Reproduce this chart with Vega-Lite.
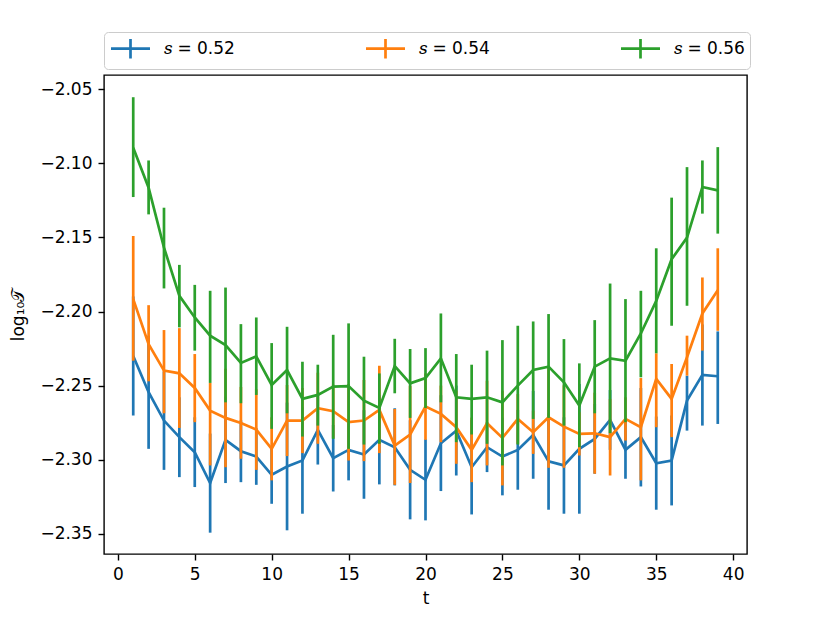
{
  "$schema": "https://vega.github.io/schema/vega-lite/v6.json",
  "width": 643,
  "height": 479,
  "autosize": {"type": "none"},
  "padding": {"left": 104, "top": 75, "right": 83, "bottom": 69},
  "background": "white",
  "config": {
    "font": "DejaVu Sans",
    "view": {"stroke": "black", "strokeWidth": 1.4},
    "axis": {
      "grid": false,
      "domain": false,
      "tickColor": "black",
      "tickWidth": 1.4,
      "tickSize": 6,
      "labelFontSize": 17,
      "labelColor": "black",
      "labelPadding": 6,
      "titleFontSize": 17,
      "titleFontWeight": "normal",
      "titleColor": "black"
    }
  },
  "data": {
    "values": [
      {"t":1,"s":"𝑠 = 0.52","v":-2.2300,"lo":-2.2702,"hi":-2.1898},
      {"t":2,"s":"𝑠 = 0.52","v":-2.2545,"lo":-2.2927,"hi":-2.2163},
      {"t":3,"s":"𝑠 = 0.52","v":-2.2736,"lo":-2.3069,"hi":-2.2404},
      {"t":4,"s":"𝑠 = 0.52","v":-2.2848,"lo":-2.3118,"hi":-2.2579},
      {"t":5,"s":"𝑠 = 0.52","v":-2.2950,"lo":-2.3185,"hi":-2.2714},
      {"t":6,"s":"𝑠 = 0.52","v":-2.3158,"lo":-2.3493,"hi":-2.2824},
      {"t":7,"s":"𝑠 = 0.52","v":-2.2866,"lo":-2.3158,"hi":-2.2574},
      {"t":8,"s":"𝑠 = 0.52","v":-2.2943,"lo":-2.3152,"hi":-2.2734},
      {"t":9,"s":"𝑠 = 0.52","v":-2.2979,"lo":-2.3170,"hi":-2.2788},
      {"t":10,"s":"𝑠 = 0.52","v":-2.3102,"lo":-2.3298,"hi":-2.2907},
      {"t":11,"s":"𝑠 = 0.52","v":-2.3046,"lo":-2.3477,"hi":-2.2615},
      {"t":12,"s":"𝑠 = 0.52","v":-2.3006,"lo":-2.3365,"hi":-2.2646},
      {"t":13,"s":"𝑠 = 0.52","v":-2.2799,"lo":-2.3033,"hi":-2.2565},
      {"t":14,"s":"𝑠 = 0.52","v":-2.2990,"lo":-2.3215,"hi":-2.2766},
      {"t":15,"s":"𝑠 = 0.52","v":-2.2934,"lo":-2.3140,"hi":-2.2727},
      {"t":16,"s":"𝑠 = 0.52","v":-2.2965,"lo":-2.3264,"hi":-2.2666},
      {"t":17,"s":"𝑠 = 0.52","v":-2.2866,"lo":-2.3167,"hi":-2.2565},
      {"t":18,"s":"𝑠 = 0.52","v":-2.2916,"lo":-2.3174,"hi":-2.2653},
      {"t":19,"s":"𝑠 = 0.52","v":-2.3069,"lo":-2.3403,"hi":-2.2734},
      {"t":20,"s":"𝑠 = 0.52","v":-2.3136,"lo":-2.3410,"hi":-2.2862},
      {"t":21,"s":"𝑠 = 0.52","v":-2.2889,"lo":-2.3212,"hi":-2.2565},
      {"t":22,"s":"𝑠 = 0.52","v":-2.2804,"lo":-2.3107,"hi":-2.2500},
      {"t":23,"s":"𝑠 = 0.52","v":-2.3051,"lo":-2.3370,"hi":-2.2732},
      {"t":24,"s":"𝑠 = 0.52","v":-2.2916,"lo":-2.3084,"hi":-2.2747},
      {"t":25,"s":"𝑠 = 0.52","v":-2.2979,"lo":-2.3241,"hi":-2.2716},
      {"t":26,"s":"𝑠 = 0.52","v":-2.2934,"lo":-2.3203,"hi":-2.2664},
      {"t":27,"s":"𝑠 = 0.52","v":-2.2833,"lo":-2.3129,"hi":-2.2536},
      {"t":28,"s":"𝑠 = 0.52","v":-2.3012,"lo":-2.3338,"hi":-2.2687},
      {"t":29,"s":"𝑠 = 0.52","v":-2.3039,"lo":-2.3365,"hi":-2.2714},
      {"t":30,"s":"𝑠 = 0.52","v":-2.2927,"lo":-2.3365,"hi":-2.2489},
      {"t":31,"s":"𝑠 = 0.52","v":-2.2860,"lo":-2.3095,"hi":-2.2624},
      {"t":32,"s":"𝑠 = 0.52","v":-2.2732,"lo":-2.2934,"hi":-2.2530},
      {"t":33,"s":"𝑠 = 0.52","v":-2.2934,"lo":-2.3129,"hi":-2.2738},
      {"t":34,"s":"𝑠 = 0.52","v":-2.2848,"lo":-2.3181,"hi":-2.2516},
      {"t":35,"s":"𝑠 = 0.52","v":-2.3024,"lo":-2.3338,"hi":-2.2709},
      {"t":36,"s":"𝑠 = 0.52","v":-2.3006,"lo":-2.3309,"hi":-2.2702},
      {"t":37,"s":"𝑠 = 0.52","v":-2.2601,"lo":-2.2804,"hi":-2.2433},
      {"t":38,"s":"𝑠 = 0.52","v":-2.2428,"lo":-2.2770,"hi":-2.2087},
      {"t":39,"s":"𝑠 = 0.52","v":-2.2437,"lo":-2.2759,"hi":-2.2134},

      {"t":1,"s":"𝑠 = 0.54","v":-2.1916,"lo":-2.2332,"hi":-2.1490},
      {"t":2,"s":"𝑠 = 0.54","v":-2.2220,"lo":-2.2471,"hi":-2.1957},
      {"t":3,"s":"𝑠 = 0.54","v":-2.2399,"lo":-2.2687,"hi":-2.2125},
      {"t":4,"s":"𝑠 = 0.54","v":-2.2417,"lo":-2.2786,"hi":-2.2112},
      {"t":5,"s":"𝑠 = 0.54","v":-2.2516,"lo":-2.2747,"hi":-2.2287},
      {"t":6,"s":"𝑠 = 0.54","v":-2.2669,"lo":-2.3039,"hi":-2.2482},
      {"t":7,"s":"𝑠 = 0.54","v":-2.2718,"lo":-2.3051,"hi":-2.2386},
      {"t":8,"s":"𝑠 = 0.54","v":-2.2752,"lo":-2.2994,"hi":-2.2509},
      {"t":9,"s":"𝑠 = 0.54","v":-2.2797,"lo":-2.3069,"hi":-2.2525},
      {"t":10,"s":"𝑠 = 0.54","v":-2.2927,"lo":-2.3140,"hi":-2.2714},
      {"t":11,"s":"𝑠 = 0.54","v":-2.2736,"lo":-2.2976,"hi":-2.2496},
      {"t":12,"s":"𝑠 = 0.54","v":-2.2736,"lo":-2.2956,"hi":-2.2516},
      {"t":13,"s":"𝑠 = 0.54","v":-2.2653,"lo":-2.2893,"hi":-2.2413},
      {"t":14,"s":"𝑠 = 0.54","v":-2.2673,"lo":-2.2853,"hi":-2.2494},
      {"t":15,"s":"𝑠 = 0.54","v":-2.2747,"lo":-2.3006,"hi":-2.2489},
      {"t":16,"s":"𝑠 = 0.54","v":-2.2736,"lo":-2.3010,"hi":-2.2462},
      {"t":17,"s":"𝑠 = 0.54","v":-2.2664,"lo":-2.2956,"hi":-2.2366},
      {"t":18,"s":"𝑠 = 0.54","v":-2.2905,"lo":-2.3170,"hi":-2.2658},
      {"t":19,"s":"𝑠 = 0.54","v":-2.2830,"lo":-2.3158,"hi":-2.2503},
      {"t":20,"s":"𝑠 = 0.54","v":-2.2642,"lo":-2.2866,"hi":-2.2418},
      {"t":21,"s":"𝑠 = 0.54","v":-2.2691,"lo":-2.2882,"hi":-2.2500},
      {"t":22,"s":"𝑠 = 0.54","v":-2.2781,"lo":-2.3028,"hi":-2.2534},
      {"t":23,"s":"𝑠 = 0.54","v":-2.2934,"lo":-2.3152,"hi":-2.2716},
      {"t":24,"s":"𝑠 = 0.54","v":-2.2754,"lo":-2.3039,"hi":-2.2467},
      {"t":25,"s":"𝑠 = 0.54","v":-2.2853,"lo":-2.3174,"hi":-2.2534},
      {"t":26,"s":"𝑠 = 0.54","v":-2.2725,"lo":-2.2893,"hi":-2.2557},
      {"t":27,"s":"𝑠 = 0.54","v":-2.2815,"lo":-2.2961,"hi":-2.2669},
      {"t":28,"s":"𝑠 = 0.54","v":-2.2714,"lo":-2.3055,"hi":-2.2372},
      {"t":29,"s":"𝑠 = 0.54","v":-2.2777,"lo":-2.3055,"hi":-2.2498},
      {"t":30,"s":"𝑠 = 0.54","v":-2.2826,"lo":-2.2972,"hi":-2.2680},
      {"t":31,"s":"𝑠 = 0.54","v":-2.2822,"lo":-2.3095,"hi":-2.2548},
      {"t":32,"s":"𝑠 = 0.54","v":-2.2848,"lo":-2.3107,"hi":-2.2590},
      {"t":33,"s":"𝑠 = 0.54","v":-2.2725,"lo":-2.2871,"hi":-2.2579},
      {"t":34,"s":"𝑠 = 0.54","v":-2.2781,"lo":-2.3140,"hi":-2.2449},
      {"t":35,"s":"𝑠 = 0.54","v":-2.2455,"lo":-2.2781,"hi":-2.2282},
      {"t":36,"s":"𝑠 = 0.54","v":-2.2590,"lo":-2.2848,"hi":-2.2354},
      {"t":37,"s":"𝑠 = 0.54","v":-2.2309,"lo":-2.2433,"hi":-2.2163},
      {"t":38,"s":"𝑠 = 0.54","v":-2.2013,"lo":-2.2264,"hi":-2.1770},
      {"t":39,"s":"𝑠 = 0.54","v":-2.1856,"lo":-2.2130,"hi":-2.1573},

      {"t":1,"s":"𝑠 = 0.56","v":-2.0894,"lo":-2.1227,"hi":-2.0553},
      {"t":2,"s":"𝑠 = 0.56","v":-2.1164,"lo":-2.1344,"hi":-2.0980},
      {"t":3,"s":"𝑠 = 0.56","v":-2.1568,"lo":-2.1844,"hi":-2.1299},
      {"t":4,"s":"𝑠 = 0.56","v":-2.1894,"lo":-2.2107,"hi":-2.1685},
      {"t":5,"s":"𝑠 = 0.56","v":-2.2040,"lo":-2.2264,"hi":-2.1820},
      {"t":6,"s":"𝑠 = 0.56","v":-2.2163,"lo":-2.2482,"hi":-2.1860},
      {"t":7,"s":"𝑠 = 0.56","v":-2.2226,"lo":-2.2613,"hi":-2.1838},
      {"t":8,"s":"𝑠 = 0.56","v":-2.2347,"lo":-2.2619,"hi":-2.2085},
      {"t":9,"s":"𝑠 = 0.56","v":-2.2303,"lo":-2.2563,"hi":-2.2040},
      {"t":10,"s":"𝑠 = 0.56","v":-2.2496,"lo":-2.2792,"hi":-2.2213},
      {"t":11,"s":"𝑠 = 0.56","v":-2.2395,"lo":-2.2687,"hi":-2.2103},
      {"t":12,"s":"𝑠 = 0.56","v":-2.2590,"lo":-2.2844,"hi":-2.2339},
      {"t":13,"s":"𝑠 = 0.56","v":-2.2563,"lo":-2.2770,"hi":-2.2359},
      {"t":14,"s":"𝑠 = 0.56","v":-2.2507,"lo":-2.2860,"hi":-2.2157},
      {"t":15,"s":"𝑠 = 0.56","v":-2.2503,"lo":-2.2927,"hi":-2.2080},
      {"t":16,"s":"𝑠 = 0.56","v":-2.2602,"lo":-2.2898,"hi":-2.2305},
      {"t":17,"s":"𝑠 = 0.56","v":-2.2651,"lo":-2.2893,"hi":-2.2418},
      {"t":18,"s":"𝑠 = 0.56","v":-2.2368,"lo":-2.2552,"hi":-2.2184},
      {"t":19,"s":"𝑠 = 0.56","v":-2.2485,"lo":-2.2718,"hi":-2.2253},
      {"t":20,"s":"𝑠 = 0.56","v":-2.2449,"lo":-2.2651,"hi":-2.2247},
      {"t":21,"s":"𝑠 = 0.56","v":-2.2316,"lo":-2.2613,"hi":-2.2013},
      {"t":22,"s":"𝑠 = 0.56","v":-2.2579,"lo":-2.2882,"hi":-2.2287},
      {"t":23,"s":"𝑠 = 0.56","v":-2.2590,"lo":-2.2830,"hi":-2.2359},
      {"t":24,"s":"𝑠 = 0.56","v":-2.2579,"lo":-2.2893,"hi":-2.2264},
      {"t":25,"s":"𝑠 = 0.56","v":-2.2613,"lo":-2.3039,"hi":-2.2193},
      {"t":26,"s":"𝑠 = 0.56","v":-2.2500,"lo":-2.2898,"hi":-2.2096},
      {"t":27,"s":"𝑠 = 0.56","v":-2.2395,"lo":-2.2725,"hi":-2.2067},
      {"t":28,"s":"𝑠 = 0.56","v":-2.2372,"lo":-2.2718,"hi":-2.2017},
      {"t":29,"s":"𝑠 = 0.56","v":-2.2478,"lo":-2.2770,"hi":-2.2186},
      {"t":30,"s":"𝑠 = 0.56","v":-2.2635,"lo":-2.2916,"hi":-2.2350},
      {"t":31,"s":"𝑠 = 0.56","v":-2.2372,"lo":-2.2687,"hi":-2.2058},
      {"t":32,"s":"𝑠 = 0.56","v":-2.2316,"lo":-2.2821,"hi":-2.1811},
      {"t":33,"s":"𝑠 = 0.56","v":-2.2332,"lo":-2.2747,"hi":-2.1916},
      {"t":34,"s":"𝑠 = 0.56","v":-2.2148,"lo":-2.2444,"hi":-2.1860},
      {"t":35,"s":"𝑠 = 0.56","v":-2.1928,"lo":-2.2282,"hi":-2.1573},
      {"t":36,"s":"𝑠 = 0.56","v":-2.1647,"lo":-2.2096,"hi":-2.1231},
      {"t":37,"s":"𝑠 = 0.56","v":-2.1501,"lo":-2.1961,"hi":-2.1025},
      {"t":38,"s":"𝑠 = 0.56","v":-2.1159,"lo":-2.1339,"hi":-2.0980},
      {"t":39,"s":"𝑠 = 0.56","v":-2.1182,"lo":-2.1474,"hi":-2.0890}
    ]
  },
  "encoding": {
    "x": {
      "field": "t", "type": "quantitative",
      "scale": {"domain": [-0.9, 40.9], "nice": false, "zero": false},
      "axis": {"values": [0, 5, 10, 15, 20, 25, 30, 35, 40], "format": "d", "title": "t", "titlePadding": 8}
    },
    "color": {
      "field": "s", "type": "nominal",
      "scale": {"domain": ["𝑠 = 0.52", "𝑠 = 0.54", "𝑠 = 0.56"], "range": ["#1f77b4", "#ff7f0e", "#2ca02c"]},
      "legend": {
        "title": null,
        "orient": "none",
        "legendX": 0,
        "legendY": -43,
        "direction": "horizontal",
        "columns": 3,
        "columnPadding": 125,
        "padding": 5,
        "strokeColor": "#cccccc",
        "fillColor": "white",
        "cornerRadius": 4,
        "symbolType": "M-2,0H2M0,-1V1",
        "symbolSize": 380,
        "symbolStrokeWidth": 2.7,
        "symbolFillColor": "transparent",
        "symbolOffset": 10,
        "labelOffset": 22,
        "labelFontSize": 17,
        "labelColor": "black",
        "labelFont": "DejaVu Sans"
      }
    }
  },
  "layer": [
    {
      "transform": [{"filter": "datum.s === '𝑠 = 0.52'"}],
      "mark": {"type": "rule", "strokeWidth": 2.7},
      "encoding": {
        "y": {"field": "lo", "type": "quantitative", "scale": {"domain": [-2.3637, -2.0403], "nice": false, "zero": false}},
        "y2": {"field": "hi"}
      }
    },
    {
      "transform": [{"filter": "datum.s === '𝑠 = 0.52'"}],
      "mark": {"type": "line", "strokeWidth": 2.7},
      "encoding": {"y": {"field": "v", "type": "quantitative"}}
    },
    {
      "transform": [{"filter": "datum.s === '𝑠 = 0.54'"}],
      "mark": {"type": "rule", "strokeWidth": 2.7},
      "encoding": {"y": {"field": "lo", "type": "quantitative"}, "y2": {"field": "hi"}}
    },
    {
      "transform": [{"filter": "datum.s === '𝑠 = 0.54'"}],
      "mark": {"type": "line", "strokeWidth": 2.7},
      "encoding": {"y": {"field": "v", "type": "quantitative"}}
    },
    {
      "transform": [{"filter": "datum.s === '𝑠 = 0.56'"}],
      "mark": {"type": "rule", "strokeWidth": 2.7},
      "encoding": {"y": {"field": "lo", "type": "quantitative"}, "y2": {"field": "hi"}}
    },
    {
      "transform": [{"filter": "datum.s === '𝑠 = 0.56'"}],
      "mark": {"type": "line", "strokeWidth": 2.7},
      "encoding": {
        "y": {
          "field": "v", "type": "quantitative",
          "axis": {"values": [-2.35, -2.3, -2.25, -2.2, -2.15, -2.1, -2.05], "format": ".2f", "title": "log₁₀𝒯", "titlePadding": 12}
        }
      }
    }
  ],
  "resolve": {"scale": {"y": "shared"}}
}
